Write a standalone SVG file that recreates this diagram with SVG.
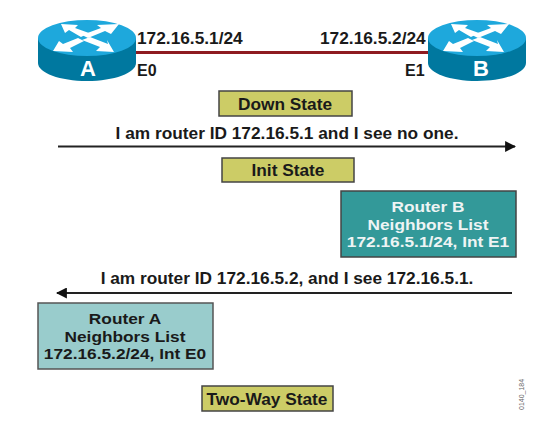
<svg xmlns="http://www.w3.org/2000/svg" width="552" height="426" viewBox="0 0 552 426">
<style>
text{font-family:"Liberation Sans",Arial,sans-serif;font-weight:bold;font-size:17.3px;fill:#1a1a1a}
.m{text-anchor:middle}
.state{fill:#cccc66;stroke:#444;stroke-width:1.5}
.side{fill:#00789f}
.top{fill:#1ea8dc}
.w{fill:#fff}
.letter{fill:#fff;font-size:22px;text-anchor:middle}
.port{font-size:16px}
text.list{font-size:15.2px}
text.light{fill:#eef4f4}
.arr{stroke:#222;stroke-width:2;fill:none}
</style>
<defs>
<marker id="ah" viewBox="0 0 10 10" refX="9" refY="5" markerWidth="5.500" markerHeight="5.500" orient="auto-start-reverse"><path d="M0 0L10 5L0 10Z" fill="#111"/></marker>
<g id="router">
<path class="side" d="M-49 0V25C-49 35-27 43 0 43S49 35 49 25V0Z"/>
<ellipse class="top" cx="0" cy="0" rx="49" ry="18"/>
<path class="w" d="M-26-14L-9-13L-12-10L2-5L-6-1L-18-8L-22-5Z"/>
<path class="w" d="M32-14L10-13L14-10L-5-3L1 0L18-7L24-4Z"/>
<path class="w" d="M-34 13L-14 14L-17 10L-3 3L-9 0L-24 6L-28 3Z"/>
<path class="w" d="M27 14L9 13L13 9L-5 2L3-1L21 6L20 2Z"/>
</g>
</defs>
<rect width="552" height="426" fill="#fff"/>
<g id="connectors">
<path d="M134 52.500H430" stroke="#8e1b20" stroke-width="3" fill="none"/>
<path class="arr" d="M58 146.500H515" marker-end="url(#ah)"/>
<path class="arr" d="M512 293H57" marker-end="url(#ah)"/>
</g>
<g id="router-a"><use href="#router" x="87" y="38"/><text class="letter" x="88" y="76">A</text></g>
<g id="router-b"><use href="#router" x="477" y="38"/><text class="letter" x="481" y="76">B</text></g>
<g id="labels">
<text x="137" y="44">172.16.5.1/24</text>
<text class="port" x="137" y="76">E0</text>
<text x="320" y="44">172.16.5.2/24</text>
<text class="port" x="405" y="76">E1</text>
<text class="m" x="287" y="139">I am router ID 172.16.5.1 and I see no one.</text>
<text class="m" x="287" y="284">I am router ID 172.16.5.2, and I see 172.16.5.1.</text>
<text x="524" y="410" transform="rotate(-90 524 410)" style="font-size:7px;font-weight:normal;fill:#666">0140_184</text>
</g>
<g id="down-state"><rect class="state" x="219" y="91" width="133" height="25"/><text class="m" x="285" y="110">Down State</text></g>
<g id="init-state"><rect class="state" x="222" y="158" width="132" height="24"/><text class="m" x="288" y="176">Init State</text></g>
<g id="two-way-state"><rect class="state" x="202" y="386" width="131" height="25"/><text class="m" x="267" y="405">Two-Way State</text></g>
<g id="router-b-list"><rect x="341" y="191" width="175" height="66" fill="#339999" stroke="#444" stroke-width="1.500"/>
<text class="m list light" transform="translate(428 212) scale(1.138 1)">Router B</text><text class="m list light" transform="translate(428 229.500) scale(1.138 1)">Neighbors List</text><text class="m list light" transform="translate(428 247) scale(1.138 1)">172.16.5.1/24, Int E1</text></g>
<g id="router-a-list"><rect x="38" y="303" width="175" height="66" fill="#99cccc" stroke="#555" stroke-width="1.500"/>
<text class="m list" transform="translate(125 324) scale(1.138 1)">Router A</text><text class="m list" transform="translate(125 341.500) scale(1.138 1)">Neighbors List</text><text class="m list" transform="translate(125 359) scale(1.138 1)">172.16.5.2/24, Int E0</text></g>
</svg>
